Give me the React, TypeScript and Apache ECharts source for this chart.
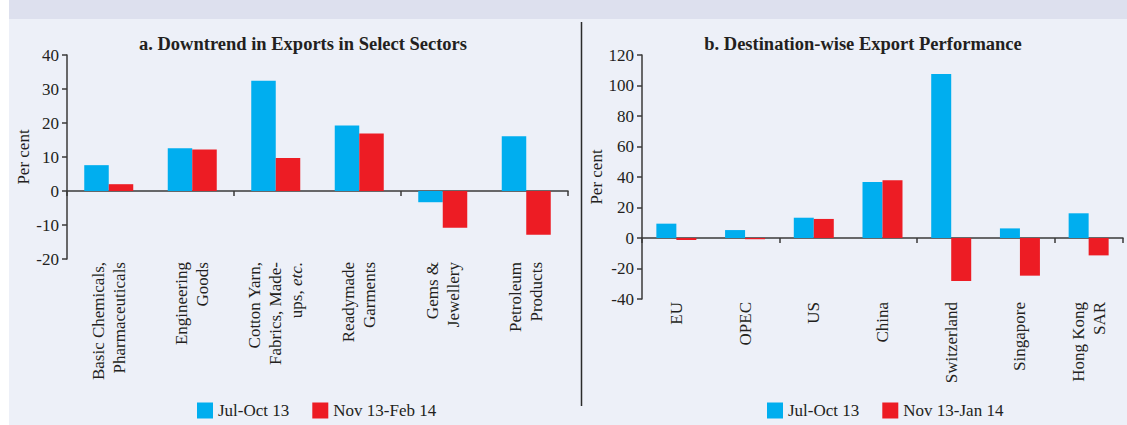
import React, { useEffect, useRef } from "react";
import * as echarts from "echarts";

const sectorCategories = [
  "Basic Chemicals,\nPharmaceuticals",
  "Engineering\nGoods",
  "Cotton Yarn,\nFabrics, Made-\nups, etc.",
  "Readymade\nGarments",
  "Gems &\nJewellery",
  "Petroleum\nProducts",
];
const sectorJulOct13 = [7.6, 12.6, 32.4, 19.3, -3.3, 16.1];
const sectorNov13Feb14 = [2.0, 12.2, 9.7, 16.9, -10.8, -12.9];

const destCategories = ["EU", "OPEC", "US", "China", "Switzerland", "Singapore", "Hong Kong\nSAR"];
const destJulOct13 = [9.4, 5.2, 13.3, 36.8, 107.5, 6.3, 16.2];
const destNov13Jan14 = [-1.3, -0.8, 12.5, 37.9, -28.2, -24.7, -11.4];

const titleA = "a. Downtrend in Exports in Select Sectors";
const titleB = "b. Destination-wise Export Performance";
const nameJulOct = "Jul-Oct 13";
const nameNovFeb = "Nov 13-Feb 14";
const nameNovJan = "Nov 13-Jan 14";

const FONT = "'Liberation Serif', 'Times New Roman', serif";
const TXT = "#231f20";
const AX = "#3a3a3a";
const BLUE = "#00aeef";
const RED = "#ed1c24";

export default function App() {
  const ref = useRef<HTMLDivElement>(null);
  useEffect(() => {
    if (!ref.current) return;
    const chart = echarts.init(ref.current, undefined, { renderer: "svg" });
    const lineAxis = (gridIndex: number, data: string[]) => ({
      type: "category",
      gridIndex,
      data,
      axisLine: { onZero: true, lineStyle: { color: AX, width: 1.5 } },
      axisTick: { show: true, length: 5, lineStyle: { color: AX, width: 1.5 } },
      axisLabel: { show: false },
      splitLine: { show: false },
    });
    const labelAxis = (gridIndex: number, data: string[]) => ({
      type: "category",
      gridIndex,
      data,
      position: "bottom",
      axisLine: { show: false, onZero: false },
      axisTick: { show: false },
      splitLine: { show: false },
      axisLabel: {
        interval: 0,
        rotate: 90,
        margin: 3,
        fontSize: 17,
        lineHeight: 21,
        color: TXT,
        fontFamily: FONT,
        formatter: (v: string) => v.replace("etc.", "{i|etc.}"),
        rich: {
          i: { fontStyle: "italic", fontSize: 17, lineHeight: 21, color: TXT, fontFamily: FONT },
        },
      },
    });
    const yAx = (gridIndex: number, min: number, max: number, interval: number, nameGap: number) => ({
      type: "value",
      gridIndex,
      min,
      max,
      interval,
      name: "Per cent",
      nameLocation: "middle",
      nameRotate: 90,
      nameGap,
      nameTextStyle: { fontSize: 17, color: TXT, fontFamily: FONT },
      axisLine: { show: true, lineStyle: { color: AX, width: 1.5 } },
      axisTick: { show: true, length: 5, lineStyle: { color: AX, width: 1.5 } },
      axisLabel: { fontSize: 17, color: TXT, fontFamily: FONT, margin: 8 },
      splitLine: { show: false },
    });
    chart.setOption({
      animation: false,
      textStyle: { fontFamily: FONT },
      graphic: [
        { type: "rect", shape: { x: 9, y: 0, width: 1118, height: 19 }, style: { fill: "#dde0ee" }, z: -10 },
        { type: "rect", shape: { x: 9, y: 19, width: 1118, height: 406 }, style: { fill: "#edf0f8" }, z: -10 },
        { type: "line", shape: { x1: 581.5, y1: 22, x2: 581.5, y2: 406 }, style: { stroke: "#2b2b2b", lineWidth: 1.5 } },
      ],
      title: [
        {
          text: titleA,
          left: 298,
          top: 29,
          textAlign: "center",
          textStyle: { fontSize: 18.5, fontWeight: "bold", color: TXT, fontFamily: FONT },
        },
        {
          text: titleB,
          left: 858,
          top: 29,
          textAlign: "center",
          textStyle: { fontSize: 18.5, fontWeight: "bold", color: TXT, fontFamily: FONT },
        },
      ],
      legend: [
        {
          data: [nameJulOct, nameNovFeb],
          left: 192,
          top: 397,
          icon: "rect",
          itemWidth: 16,
          itemHeight: 16,
          itemGap: 23,
          itemTextGap: 5,
          textStyle: { fontSize: 17, color: TXT, fontFamily: FONT },
          selectedMode: false,
        },
        {
          data: [nameJulOct, nameNovJan],
          left: 762,
          top: 397,
          icon: "rect",
          itemWidth: 16,
          itemHeight: 16,
          itemGap: 23,
          itemTextGap: 5,
          textStyle: { fontSize: 17, color: TXT, fontFamily: FONT },
          selectedMode: false,
        },
      ],
      grid: [
        { left: 67, top: 55, width: 501, height: 204, containLabel: false },
        { left: 642, top: 55, width: 481, height: 244, containLabel: false },
      ],
      xAxis: [
        lineAxis(0, sectorCategories),
        labelAxis(0, sectorCategories),
        lineAxis(1, destCategories),
        labelAxis(1, destCategories),
      ],
      yAxis: [yAx(0, -20, 40, 10, 29), yAx(1, -40, 120, 20, 36)],
      series: [
        {
          type: "bar",
          name: nameJulOct,
          xAxisIndex: 0,
          yAxisIndex: 0,
          data: sectorJulOct13,
          barWidth: 24.5,
          barGap: "0%",
          itemStyle: { color: BLUE },
        },
        {
          type: "bar",
          name: nameNovFeb,
          xAxisIndex: 0,
          yAxisIndex: 0,
          data: sectorNov13Feb14,
          barWidth: 24.5,
          barGap: "0%",
          itemStyle: { color: RED },
        },
        {
          type: "bar",
          name: nameJulOct,
          xAxisIndex: 2,
          yAxisIndex: 1,
          data: destJulOct13,
          barWidth: 20,
          barGap: "0%",
          itemStyle: { color: BLUE },
        },
        {
          type: "bar",
          name: nameNovJan,
          xAxisIndex: 2,
          yAxisIndex: 1,
          data: destNov13Jan14,
          barWidth: 20,
          barGap: "0%",
          itemStyle: { color: RED },
        },
      ],
    });
    return () => chart.dispose();
  }, []);
  return (
    <div
      ref={ref}
      style={{ position: "fixed", left: 0, top: 0, width: 1127, height: 425, background: "#ffffff" }}
    />
  );
}
